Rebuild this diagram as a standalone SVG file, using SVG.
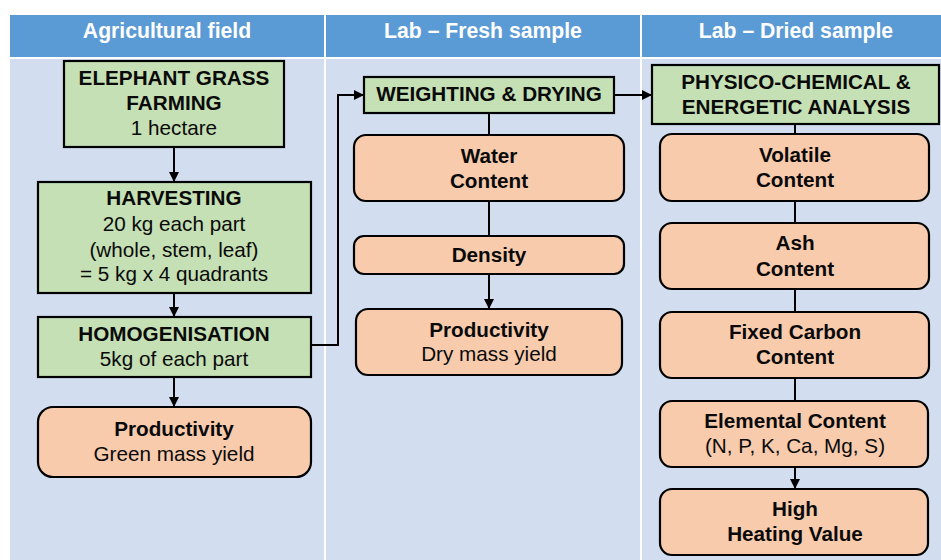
<svg xmlns="http://www.w3.org/2000/svg" width="941" height="560" viewBox="0 0 941 560">
  <style>
    .hdr { fill: #5B9BD5; }
    .lane { fill: #D2DDEF; }
    .hdr-t { font-family: "Liberation Sans", Arial, sans-serif; font-size: 21.2px; font-weight: bold; fill: #FFFFFF; text-anchor: middle; }
    .proc { fill: #C5E0B4; stroke: #000; stroke-width: 2.2; }
    .res { fill: #F8CBAD; stroke: #000; stroke-width: 2.2; }
    .t { font-family: "Liberation Sans", Arial, sans-serif; font-size: 20.7px; fill: #0A0A0A; text-anchor: middle; }
    .b { font-weight: bold; }
    .wire { fill: none; stroke: #000; stroke-width: 2; }
  </style>
  <defs>
    <marker id="arrow" viewBox="0 0 10 10" refX="9" refY="5" markerWidth="5" markerHeight="5" orient="auto">
      <path d="M0,0 L10,5 L0,10 z" fill="#000"/>
    </marker>
  </defs>

  <rect width="941" height="560" fill="#FFFFFF"/>

  <!-- swim lanes -->
  <g id="lanes">
    <rect class="hdr" x="10" y="15" width="314" height="42"/>
    <rect class="hdr" x="326" y="15" width="314" height="42"/>
    <rect class="hdr" x="642" y="15" width="299" height="42"/>
    <rect class="lane" x="10" y="59" width="314" height="501"/>
    <rect class="lane" x="326" y="59" width="314" height="501"/>
    <rect class="lane" x="642" y="59" width="299" height="501"/>
    <text class="hdr-t" x="167" y="38">Agricultural field</text>
    <text class="hdr-t" x="483" y="38">Lab – Fresh sample</text>
    <text class="hdr-t" x="796" y="38">Lab – Dried sample</text>
  </g>

  <!-- connectors -->
  <g id="connectors">
    <line class="wire" x1="174" y1="147" x2="174" y2="181" marker-end="url(#arrow)"/>
    <line class="wire" x1="174" y1="293" x2="174" y2="316" marker-end="url(#arrow)"/>
    <line class="wire" x1="174" y1="377" x2="174" y2="406" marker-end="url(#arrow)"/>
    <polyline class="wire" points="311,345 338,345 338,95 363,95" marker-end="url(#arrow)"/>
    <line class="wire" x1="614" y1="95" x2="651" y2="95" marker-end="url(#arrow)"/>
    <line class="wire" x1="489" y1="113" x2="489" y2="135"/>
    <line class="wire" x1="489" y1="201" x2="489" y2="236"/>
    <line class="wire" x1="489" y1="274" x2="489" y2="308" marker-end="url(#arrow)"/>
    <line class="wire" x1="795" y1="124" x2="795" y2="134"/>
    <line class="wire" x1="795" y1="201" x2="795" y2="223"/>
    <line class="wire" x1="795" y1="289" x2="795" y2="312"/>
    <line class="wire" x1="795" y1="378" x2="795" y2="401"/>
    <line class="wire" x1="795" y1="467" x2="795" y2="488" marker-end="url(#arrow)"/>
  </g>

  <!-- Agricultural field -->
  <g id="farming">
    <rect class="proc" x="64" y="61" width="220" height="86"/>
    <text class="t b" x="174" y="85">ELEPHANT GRASS</text>
    <text class="t b" x="174" y="110">FARMING</text>
    <text class="t" x="174" y="135">1 hectare</text>
  </g>
  <g id="harvesting">
    <rect class="proc" x="38" y="182" width="273" height="111"/>
    <text class="t b" x="174" y="205">HARVESTING</text>
    <text class="t" x="174" y="231">20 kg each part</text>
    <text class="t" x="174" y="257">(whole, stem, leaf)</text>
    <text class="t" x="174" y="281">= 5 kg x 4 quadrants</text>
  </g>
  <g id="homogenisation">
    <rect class="proc" x="38" y="317" width="273" height="60"/>
    <text class="t b" x="174" y="341">HOMOGENISATION</text>
    <text class="t" x="174" y="366">5kg of each part</text>
  </g>
  <g id="green-yield">
    <rect class="res" x="38" y="407" width="273" height="70" rx="15"/>
    <text class="t b" x="174" y="436">Productivity</text>
    <text class="t" x="174" y="461">Green mass yield</text>
  </g>

  <!-- Lab: fresh sample -->
  <g id="weighting">
    <rect class="proc" x="364" y="77" width="250" height="36"/>
    <text class="t b" x="489" y="101">WEIGHTING &amp; DRYING</text>
  </g>
  <g id="water">
    <rect class="res" x="354" y="135" width="270" height="66" rx="12"/>
    <text class="t b" x="489" y="163">Water</text>
    <text class="t b" x="489" y="188">Content</text>
  </g>
  <g id="density">
    <rect class="res" x="354" y="236" width="270" height="38" rx="10"/>
    <text class="t b" x="489" y="262">Density</text>
  </g>
  <g id="dry-yield">
    <rect class="res" x="356" y="309" width="266" height="66" rx="12"/>
    <text class="t b" x="489" y="337">Productivity</text>
    <text class="t" x="489" y="361">Dry mass yield</text>
  </g>

  <!-- Lab: dried sample -->
  <g id="analysis">
    <rect class="proc" x="652" y="65" width="287" height="59"/>
    <text class="t b" x="796" y="89">PHYSICO-CHEMICAL &amp;</text>
    <text class="t b" x="796" y="114">ENERGETIC ANALYSIS</text>
  </g>
  <g id="volatile">
    <rect class="res" x="660" y="134" width="269" height="67" rx="12"/>
    <text class="t b" x="795" y="162">Volatile</text>
    <text class="t b" x="795" y="187">Content</text>
  </g>
  <g id="ash">
    <rect class="res" x="660" y="223" width="269" height="66" rx="12"/>
    <text class="t b" x="795" y="250">Ash</text>
    <text class="t b" x="795" y="276">Content</text>
  </g>
  <g id="fixed-carbon">
    <rect class="res" x="660" y="312" width="269" height="66" rx="12"/>
    <text class="t b" x="795" y="339">Fixed Carbon</text>
    <text class="t b" x="795" y="364">Content</text>
  </g>
  <g id="elemental">
    <rect class="res" x="660" y="401" width="268" height="66" rx="12"/>
    <text class="t b" x="795" y="428">Elemental Content</text>
    <text class="t" x="795" y="453">(N, P, K, Ca, Mg, S)</text>
  </g>
  <g id="heating-value">
    <rect class="res" x="660" y="489" width="268" height="66" rx="12"/>
    <text class="t b" x="795" y="516">High</text>
    <text class="t b" x="795" y="541">Heating Value</text>
  </g>
</svg>
